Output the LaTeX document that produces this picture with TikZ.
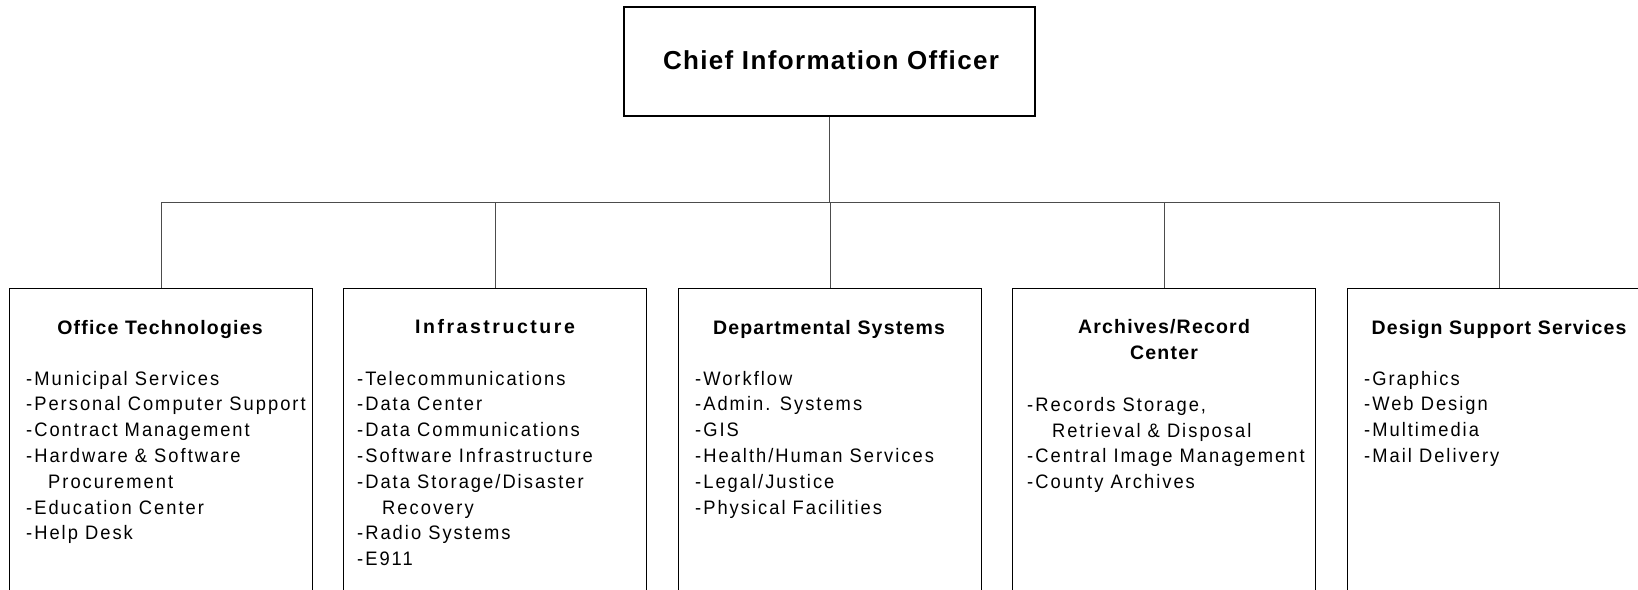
\documentclass[tikz,border=0pt]{standalone}
\usepackage{fontspec}
\setmainfont{Liberation Sans}
\newfontfamily\bodyfont[LetterSpace=10.3,FakeStretch=0.94]{Liberation Sans}
\newfontfamily\headfont[LetterSpace=6.2]{Liberation Sans}
\newfontfamily\infrafont[LetterSpace=13]{Liberation Sans}
\newfontfamily\ciofont[LetterSpace=5.2]{Liberation Sans}
\begin{document}
\begin{tikzpicture}[x=1pt,y=-1pt,
  boxline/.style={draw=black, line width=1.4pt},
  ciobox/.style={boxline, rectangle, minimum width=411pt, minimum height=109pt, inner sep=0pt},
  unitbox/.style={boxline, rectangle, anchor=north, minimum width=303pt, minimum height=340pt, inner sep=0pt},
  ciotext/.style={anchor=base, inner sep=0pt, font=\ciofont\bfseries\fontsize{26}{30}\selectfont},
  headtext/.style={anchor=base, inner sep=0pt, font=\headfont\bfseries\fontsize{19.5}{26}\selectfont},
  infrahead/.style={anchor=base, inner sep=0pt, font=\infrafont\bfseries\fontsize{19.5}{26}\selectfont},
  listtext/.style={anchor=north west, inner sep=0pt, align=left, font=\bodyfont\fontsize{19.5}{25.8}\selectfont},
  link/.style={draw=black!70, line width=1pt}
]
\useasboundingbox (0,0) rectangle (1638,589);
\clip (0,0) rectangle (1638,589);

% top box
\node[ciobox] (cio) at (829.5,61.5) {};
\node[ciotext] (ciotitle) at (831,69) {Chief Information Officer};

% unit boxes
\node[unitbox] (ot) at (161,288) {};
\node[unitbox] (inf) at (495,288) {};
\node[unitbox] (dep) at (830,288) {};
\node[unitbox] (arc) at (1164,288) {};
\node[unitbox] (dss) at (1499,288) {};

% connectors
\coordinate (bus) at (829.5,202);
\draw[link] (cio.south) -- (bus);
\draw[link] (ot.north) |- (bus);
\draw[link] (inf.north) |- (bus);
\draw[link] (dep.north) |- (bus);
\draw[link] (arc.north) |- (bus);
\draw[link] (dss.north) |- (bus);

% headings
\node[headtext] (othead) at (160,334) {Office Technologies};
\node[infrahead] (infhead) at (495,333.3) {Infrastructure};
\node[headtext] (dephead) at (829,334) {Departmental Systems};
\node[headtext, anchor=north, align=center] (archead) at (1164,315.1) {\strut Archives/Record\\Center};
\node[headtext] (dsshead) at (1499,334) {Design Support Services};

% lists
\node[listtext] (otlist) at (26,366.9) {\strut -Municipal Services\\
-Personal Computer Support\\
-Contract Management\\
-Hardware \& Software\\
\hspace*{22pt}Procurement\\
-Education Center\\
-Help Desk};

\node[listtext] (inflist) at (357,366.9) {\strut -Telecommunications\\
-Data Center\\
-Data Communications\\
-Software Infrastructure\\
-Data Storage/Disaster\\
\hspace*{25pt}Recovery\\
-Radio Systems\\
-E911};

\node[listtext] (deplist) at (695,366.9) {\strut -Workflow\\
-Admin. Systems\\
-GIS\\
-Health/Human Services\\
-Legal/Justice\\
-Physical Facilities};

\node[listtext] (arclist) at (1027,393) {\strut -Records Storage,\\
\hspace*{25pt}Retrieval \& Disposal\\
-Central Image Management\\
-County Archives};

\node[listtext] (dsslist) at (1364,366.9) {\strut -Graphics\\
-Web Design\\
-Multimedia\\
-Mail Delivery};
\end{tikzpicture}
\end{document}
